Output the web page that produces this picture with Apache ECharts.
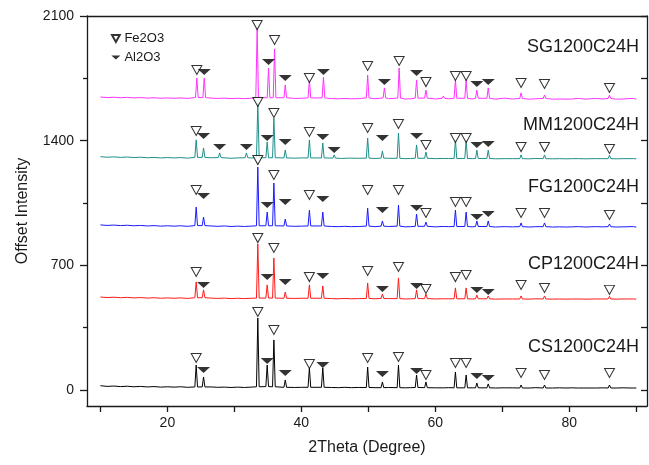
<!DOCTYPE html>
<html>
<head>
<meta charset="utf-8">
<script src="https://cdn.jsdelivr.net/npm/echarts@6/dist/echarts.min.js"></script>
<style>html,body{margin:0;padding:0;background:#fff}#c{width:649px;height:465px}</style>
</head>
<body>
<div id="c"></div>
<script>
// ---- axis ticks ----
const xTicks = [10, 20, 30, 40, 50, 60, 70, 80, 90];
const xLabels = [20, 40, 60, 80];
const yLabels = [0, 700, 1400, 2100];
const yMinor = [350, 1050, 1750];
const yRight = [0, 350, 700, 1050, 1400, 1750, 2100];

// ---- sample names & colours ----
const names = ['CS1200C24H', 'CP1200C24H', 'FG1200C24H', 'MM1200C24H', 'SG1200C24H'];
const colors = ['#000000', '#ff1a1a', '#1a1aff', '#1f8f8a', '#ff33ff'];

// ---- baselines [2theta, intensity] ----
const csBase = [[10,24],[11,20],[12,22],[13,19],[14,21],[15,18],[16,20],[17,17],[18,19],[19,16],[20,18],[21,16],[22,18],[23,15],[26.5,17],[27.5,15],[28.5,16],[29.5,14],[30.5,16],[31.5,14],[32.5,16],[39,14],[40,15],[44.5,14],[45.5,13],[46.5,15],[47.5,13],[48.5,14],[51,13],[53,14],[55.5,12],[56.3,13],[60,12],[62,13],[65.5,12],[69,11],[71.5,12],[74,11],[75,13],[77.5,11],[78.5,12],[79.5,11],[80.5,12],[82.5,11],[85,12],[87,11],[88,12],[90,11]];
const cpBase = [[10,522],[11,519],[12,521],[13,518],[14,520],[15,517],[16,519],[17,516],[18,518],[19,515],[20,517],[21,515],[22,517],[23,514],[26.5,516],[27.5,514],[28.5,516],[29.5,513],[30.5,515],[31.5,513],[32.5,515],[39,514],[40,515],[44.5,513],[45.5,512],[46.5,514],[47.5,512],[48.5,513],[51,512],[53,513],[55.5,511],[56.3,512],[60,511],[62,512],[65.5,511],[69,510],[71.5,511],[74,510],[75,512],[77.5,510],[78.5,511],[79.5,510],[80.5,511],[82.5,510],[85,511],[87,510],[88,511],[90,510]];
const fgBase = [[10,927],[11,924],[12,926],[13,923],[14,925],[15,922],[16,924],[17,921],[18,923],[19,920],[20,922],[21,920],[22,922],[23,919],[26.5,921],[27.5,919],[28.5,921],[29.5,918],[30.5,920],[31.5,918],[32.5,920],[39,919],[40,920],[44.5,918],[45.5,917],[46.5,919],[47.5,917],[48.5,918],[51,917],[53,918],[55.5,916],[56.3,917],[60,916],[62,917],[65.5,916],[69,915],[71.5,916],[74,915],[75,917],[77.5,915],[78.5,916],[79.5,915],[80.5,916],[82.5,915],[85,916],[87,915],[88,916],[90,915]];
const mmBase = [[10,1310],[11,1307],[12,1309],[13,1306],[14,1308],[15,1305],[16,1307],[17,1304],[18,1306],[19,1303],[20,1305],[21,1303],[22,1305],[23,1302],[26.5,1304],[29.5,1301],[30.5,1303],[32.5,1303],[39,1302],[40,1303],[46,1300],[47,1302],[48.5,1301],[51,1300],[53,1301],[55.5,1299],[56.3,1300],[60,1299],[62,1300],[65.5,1299],[69,1298],[71.5,1299],[74,1298],[75,1300],[77.5,1298],[78.5,1299],[79.5,1298],[80.5,1299],[82.5,1298],[85,1299],[87,1298],[88,1299],[90,1298]];
const sgBase = [[10,1645],[11,1642],[12,1644],[13,1641],[14,1643],[15,1640],[16,1642],[17,1639],[18,1641],[19,1638],[20,1640],[21,1638],[22,1640],[23,1637],[26.5,1639],[27.5,1637],[28.5,1639],[29.5,1636],[30.5,1638],[31.5,1636],[32.5,1638],[39,1637],[40,1638],[44.5,1636],[45.5,1635],[46.5,1637],[47.5,1635],[48.5,1636],[51,1635],[53,1636],[55.5,1634],[56.3,1635],[60,1634],[62,1635],[65.5,1634],[69,1633],[71.5,1634],[74,1633],[75,1635],[77.5,1633],[78.5,1634],[79.5,1633],[80.5,1634],[82.5,1633],[85,1634],[87,1633],[88,1634],[90,1633]];

// ---- peaks [2theta, top, foot] ----
const csPeaks = [[24.3,140,17],[25.4,73,17],[33.5,404,18],[34.9,140,19],[35.9,281,18],[37.6,56,15],[41.2,124,15],[43.2,124,15],[49.9,129,14],[52.1,45,13],[54.5,140,13],[57.2,84,14],[58.6,45,13],[61.2,22,12],[63.0,101,12],[64.6,84,12],[66.2,39,12],[67.9,34,12],[70.3,20,12],[72.8,28,11],[76.3,28,11],[81.2,20,11],[83.9,20,11],[86.0,28,11],[89.4,20,11]];
const cpPeaks = [[24.3,607,518],[25.4,562,518],[33.5,820,516],[34.9,590,516],[35.9,741,516],[37.6,550,515],[41.2,590,515],[43.2,584,515],[49.9,601,514],[52.1,539,514],[54.5,629,513],[57.2,562,513],[58.6,539,513],[61.2,522,512],[63.0,573,512],[64.6,573,512],[66.2,533,512],[67.9,528,512],[70.3,520,511],[72.8,528,511],[76.3,528,511],[81.2,520,511],[83.9,520,511],[86.0,526,511],[89.4,520,511]];
const fgPeaks = [[24.3,1027,923],[25.4,971,923],[33.5,1252,922],[34.9,999,922],[35.9,1162,922],[37.6,960,921],[41.2,1010,921],[43.2,999,921],[49.9,1021,920],[52.1,949,920],[54.5,1038,920],[57.2,988,919],[58.6,943,919],[61.2,926,918],[63.0,1010,918],[64.6,999,918],[66.2,949,918],[67.9,949,918],[70.3,925,917],[72.8,938,917],[76.3,938,917],[81.2,925,917],[83.9,925,917],[86.0,932,917],[89.4,925,917]];
const mmPeaks = [[24.3,1404,1306],[25.4,1359,1306],[27.8,1331,1305],[31.8,1331,1304],[33.5,1612,1304],[34.9,1393,1304],[35.9,1527,1304],[37.6,1347,1303],[41.2,1404,1303],[43.2,1387,1303],[44.9,1320,1302],[49.9,1415,1302],[52.1,1342,1302],[54.5,1443,1301],[57.2,1376,1301],[58.6,1336,1301],[61.2,1310,1300],[63.0,1404,1300],[64.6,1404,1300],[66.2,1347,1300],[67.9,1347,1300],[70.3,1308,1299],[72.8,1320,1299],[76.3,1320,1299],[81.2,1308,1299],[83.9,1308,1299],[86.0,1318,1299],[89.4,1308,1299]];
const sgPeaks = [[24.4,1752,1642],[25.5,1752,1642],[33.4,2027,1641],[35.1,1808,1641],[36.0,1915,1641],[37.6,1713,1641],[41.2,1741,1640],[43.3,1757,1640],[49.9,1769,1640],[52.4,1696,1640],[54.6,1808,1639],[57.2,1741,1639],[58.6,1684,1639],[61.2,1650,1638],[63.0,1741,1638],[64.6,1741,1638],[66.2,1684,1638],[67.9,1696,1638],[70.3,1648,1638],[72.8,1668,1637],[76.3,1656,1637],[81.2,1648,1637],[83.9,1648,1637],[86.0,1656,1637],[89.4,1648,1637]];

// ---- phase markers [2theta, intensity] ----
const csFe = [[24.3,180],[33.5,438],[35.9,337],[41.2,146],[49.9,180],[54.5,185],[58.6,84],[63.0,152],[64.6,152],[72.8,95],[76.3,84],[86.0,95]];
const csAl = [[25.4,112],[34.9,163],[37.6,95],[43.2,140],[52.1,90],[57.2,107],[66.2,79],[67.9,67]];
const cpFe = [[24.3,663],[33.5,853],[35.9,797],[41.2,634],[49.9,668],[54.5,691],[58.6,567],[63.0,634],[64.6,646],[72.8,590],[76.3,573],[86.0,562]];
const cpAl = [[25.4,590],[34.9,634],[37.6,606],[43.2,640],[52.1,567],[57.2,584],[66.2,562],[67.9,550]];
const fgFe = [[24.3,1123],[33.5,1291],[35.9,1207],[41.2,1095],[49.9,1123],[54.5,1123],[58.6,994],[63.0,1056],[64.6,1056],[72.8,994],[76.3,994],[86.0,983]];
const fgAl = [[25.4,1089],[34.9,1039],[37.6,1056],[43.2,1072],[52.1,1011],[57.2,1022],[66.2,971],[67.9,988]];
const mmFe = [[24.3,1454],[33.5,1617],[35.9,1555],[41.2,1449],[49.9,1471],[54.5,1494],[58.6,1376],[63.0,1415],[64.6,1415],[72.8,1364],[76.3,1364],[86.0,1353]];
const mmAl = [[25.4,1426],[27.8,1364],[31.8,1364],[34.9,1415],[37.6,1393],[43.2,1421],[44.9,1348],[52.1,1415],[57.2,1426],[66.2,1376],[67.9,1381]];
const sgFe = [[24.4,1797],[33.4,2049],[36.0,1965],[41.2,1752],[49.9,1819],[54.6,1847],[58.6,1729],[63.0,1763],[64.6,1763],[72.8,1724],[76.3,1718],[86.0,1696]];
const sgAl = [[25.5,1786],[35.1,1842],[37.6,1752],[43.3,1786],[52.4,1729],[57.2,1780],[66.2,1718],[67.9,1729]];

const bases = [csBase, cpBase, fgBase, mmBase, sgBase];
const peaks = [csPeaks, cpPeaks, fgPeaks, mmPeaks, sgPeaks];
const feMarks = [csFe, cpFe, fgFe, mmFe, sgFe];
const alMarks = [csAl, cpAl, fgAl, mmAl, sgAl];

const HW = 0.2; // half width of a peak foot in degrees
function buildLine(base, pk) {
  const pts = base.filter(b => !pk.some(p => Math.abs(p[0] - b[0]) < HW + 0.15)).map(b => [b[0], b[1]]);
  pk.forEach(p => { pts.push([p[0] - HW, p[2]], [p[0], p[1]], [p[0] + HW, p[2]]); });
  pts.sort((a, b) => a[0] - b[0]);
  return pts;
}

const FONT = '"Liberation Sans", Arial, sans-serif';
const AXC = '#1a1a1a';
const FE_PATH = 'path://M0,0L10,0L5,9Z';
const AL_PATH = 'path://M0,0L13,0L6.5,6Z';

const series = [];
names.forEach((n, i) => {
  series.push({
    name: n, type: 'line', data: buildLine(bases[i], peaks[i]),
    showSymbol: false, symbol: 'none', silent: true, z: 2,
    lineStyle: { color: colors[i], width: 1 }, itemStyle: { color: colors[i] }
  });
});
names.forEach((n, i) => {
  series.push({
    name: 'Fe2O3', type: 'scatter', data: feMarks[i], symbol: FE_PATH, symbolSize: [10, 9],
    itemStyle: { color: '#ffffff', borderColor: '#000', borderWidth: 1 }, silent: true, z: 5
  });
  series.push({
    name: 'Al2O3', type: 'scatter', data: alMarks[i], symbol: AL_PATH, symbolSize: [13, 6],
    itemStyle: { color: '#000' }, silent: true, z: 5
  });
});

const labelY = [348, 265, 188, 126, 48];
const graphic = names.map((n, i) => ({
  type: 'text', right: 10, top: labelY[i] - 10,
  style: { text: n, font: '18px ' + FONT, fill: '#1a1a1a' }
}));

const chart = echarts.init(document.getElementById('c'), null, { renderer: 'canvas' });
chart.setOption({
  animation: false,
  backgroundColor: '#fff',
  grid: { left: 87, right: 2, top: 16, bottom: 59 },
  legend: {
    data: [{ name: 'Fe2O3', icon: FE_PATH }, { name: 'Al2O3', icon: AL_PATH }],
    orient: 'vertical', left: 106, top: 27, itemWidth: 9, itemHeight: 7, itemGap: 6,
    selectedMode: false,
    textStyle: { fontFamily: FONT, fontSize: 13, color: '#1a1a1a', padding: [0, 0, 0, -1] }
  },
  xAxis: [
    {
      type: 'value', position: 'bottom', min: 8, max: 91.6,
      name: '2Theta (Degree)', nameLocation: 'middle', nameGap: 34,
      nameTextStyle: { fontFamily: FONT, fontSize: 16, color: '#1a1a1a' },
      axisLine: { show: true, onZero: false, lineStyle: { color: AXC, width: 1.3 } },
      axisTick: { show: true, inside: false, length: 6, customValues: xTicks, lineStyle: { color: AXC, width: 1.3 } },
      axisLabel: { customValues: xLabels, fontFamily: FONT, fontSize: 14, color: '#1a1a1a', margin: 10, formatter: v => String(v) },
      splitLine: { show: false }
    },
    {
      type: 'value', position: 'top', min: 8, max: 91.6,
      axisLine: { show: true, onZero: false, lineStyle: { color: AXC, width: 1.3 } },
      axisTick: { show: false }, axisLabel: { show: false }, splitLine: { show: false }
    }
  ],
  yAxis: [
    {
      type: 'value', position: 'left', min: -90, max: 2100,
      name: 'Offset Intensity', nameLocation: 'middle', nameGap: 56,
      nameTextStyle: { fontFamily: FONT, fontSize: 16, color: '#1a1a1a' },
      axisLine: { show: true, onZero: false, lineStyle: { color: AXC, width: 1.3 } },
      axisTick: { show: true, length: 7, customValues: yLabels, lineStyle: { color: AXC, width: 1.3 } },
      axisLabel: { customValues: yLabels, fontFamily: FONT, fontSize: 14, color: '#1a1a1a', margin: 13, formatter: v => String(v) },
      splitLine: { show: false }
    },
    {
      type: 'value', position: 'left', min: -90, max: 2100,
      axisLine: { show: false },
      axisTick: { show: true, length: 4, customValues: yMinor, lineStyle: { color: AXC, width: 1.3 } },
      axisLabel: { show: false }, splitLine: { show: false }
    },
    {
      type: 'value', position: 'right', min: -90, max: 2100,
      axisLine: { show: true, onZero: false, lineStyle: { color: AXC, width: 1.3 } },
      axisTick: { show: true, inside: true, length: 6, customValues: yRight, lineStyle: { color: AXC, width: 1.3 } },
      axisLabel: { show: false }, splitLine: { show: false }
    }
  ],
  graphic: graphic,
  series: series
});
</script>
</body>
</html>
